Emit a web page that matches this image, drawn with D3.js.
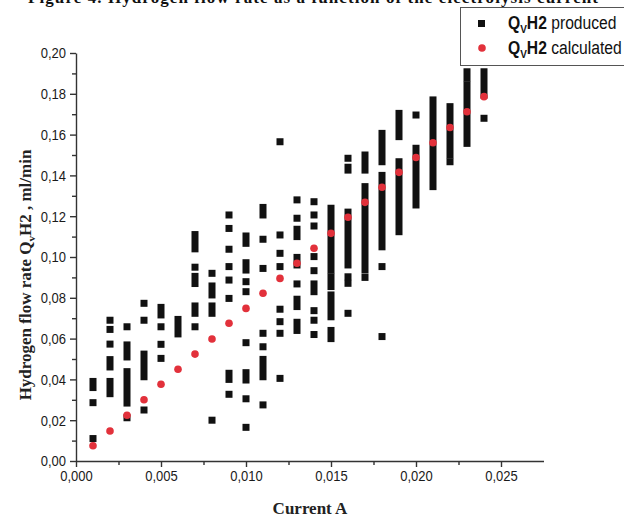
<!DOCTYPE html>
<html>
<head>
<meta charset="utf-8">
<script src="https://cdn.jsdelivr.net/npm/d3@7/dist/d3.min.js"></script>
<style>
  body { margin: 0; background: #fff; }
  svg { display: block; }
  .tick text { font-family: 'Liberation Sans', Arial, sans-serif; font-size: 15.5px; fill: #1a1a1a; }
</style>
</head>
<body>
<script>
// Current values (A) at which the flow was measured / calculated
const currentA = [0.001, 0.002, 0.003, 0.004, 0.005, 0.006, 0.007, 0.008, 0.009, 0.010, 0.011, 0.012,
                  0.013, 0.014, 0.015, 0.016, 0.017, 0.018, 0.019, 0.020, 0.021, 0.022, 0.023, 0.024];

// Calculated hydrogen flow (ml/min), one per current value
const flowCalculated = [0.0075, 0.0147, 0.0224, 0.0300, 0.0376, 0.0450, 0.0524, 0.0598, 0.0675, 0.0748, 0.0822, 0.0895,
                        0.0969, 0.1043, 0.1116, 0.1195, 0.1268, 0.1342, 0.1415, 0.1488, 0.1560, 0.1635, 0.1712, 0.1786];

// Produced hydrogen flow (ml/min): [current A, lowest, highest] for each run of overlapping readings
const producedRuns = [
  [0.001, 0.011, 0.011], [0.001, 0.0286, 0.0286], [0.001, 0.036, 0.039],
  [0.002, 0.033, 0.039], [0.002, 0.0461, 0.0497], [0.002, 0.0573, 0.0573], [0.002, 0.0645, 0.0645], [0.002, 0.069, 0.069],
  [0.003, 0.0212, 0.0212], [0.003, 0.0284, 0.0438], [0.003, 0.051, 0.0569], [0.003, 0.0658, 0.0658],
  [0.004, 0.025, 0.025], [0.004, 0.0413, 0.0524], [0.004, 0.069, 0.069], [0.004, 0.0773, 0.0773],
  [0.005, 0.0503, 0.0503], [0.005, 0.0572, 0.0572], [0.005, 0.0658, 0.0658], [0.005, 0.0716, 0.0753],
  [0.006, 0.0623, 0.0694],
  [0.007, 0.0658, 0.0658], [0.007, 0.0724, 0.076], [0.007, 0.087, 0.0905], [0.007, 0.095, 0.095], [0.007, 0.104, 0.111],
  [0.008, 0.020, 0.020], [0.008, 0.0724, 0.076], [0.008, 0.0814, 0.0858], [0.008, 0.092, 0.092],
  [0.009, 0.0327, 0.0327], [0.009, 0.040, 0.043], [0.009, 0.0797, 0.0797], [0.009, 0.0887, 0.0887], [0.009, 0.0953, 0.0953],
  [0.009, 0.1038, 0.1038], [0.009, 0.114, 0.114], [0.009, 0.1206, 0.1206],
  [0.010, 0.0165, 0.0165], [0.010, 0.0305, 0.0305], [0.010, 0.0397, 0.0433], [0.010, 0.058, 0.058], [0.010, 0.083, 0.083],
  [0.010, 0.0879, 0.0879], [0.010, 0.0936, 0.0972], [0.010, 0.1067, 0.1103],
  [0.011, 0.0275, 0.0275], [0.011, 0.0413, 0.0498], [0.011, 0.056, 0.056], [0.011, 0.0626, 0.0626], [0.011, 0.0944, 0.0944],
  [0.011, 0.1087, 0.1087], [0.011, 0.1206, 0.1243],
  [0.012, 0.0405, 0.0405], [0.012, 0.0626, 0.0626], [0.012, 0.0683, 0.0683], [0.012, 0.0744, 0.0744], [0.012, 0.0953, 0.0953],
  [0.012, 0.1018, 0.1018], [0.012, 0.1108, 0.1108], [0.012, 0.1565, 0.1565],
  [0.013, 0.064, 0.068], [0.013, 0.0757, 0.0793], [0.013, 0.0868, 0.0868], [0.013, 0.0961, 0.0998], [0.013, 0.110, 0.1136],
  [0.013, 0.119, 0.119], [0.013, 0.128, 0.128],
  [0.014, 0.062, 0.062], [0.014, 0.069, 0.069], [0.014, 0.0737, 0.0737], [0.014, 0.083, 0.0868], [0.014, 0.0933, 0.0933],
  [0.014, 0.1002, 0.1002], [0.014, 0.1152, 0.1152], [0.014, 0.1206, 0.1206], [0.014, 0.1271, 0.1271],
  [0.015, 0.060, 0.064], [0.015, 0.0707, 0.0814], [0.015, 0.0855, 0.0903], [0.015, 0.0936, 0.1239],
  [0.016, 0.0724, 0.0724], [0.016, 0.0871, 0.0871], [0.016, 0.0903, 0.0903], [0.016, 0.0961, 0.122],
  [0.016, 0.1426, 0.144], [0.016, 0.1484, 0.1484],
  [0.017, 0.090, 0.090], [0.017, 0.0936, 0.1345], [0.017, 0.1426, 0.150],
  [0.018, 0.061, 0.061], [0.018, 0.0953, 0.0953], [0.018, 0.105, 0.140], [0.018, 0.1467, 0.1606],
  [0.019, 0.1124, 0.1467], [0.019, 0.159, 0.1704],
  [0.020, 0.1255, 0.1533], [0.020, 0.1696, 0.1696],
  [0.021, 0.1345, 0.177],
  [0.022, 0.1467, 0.1467], [0.022, 0.150, 0.1737],
  [0.023, 0.1557, 0.1843], [0.023, 0.1876, 0.1908],
  [0.024, 0.168, 0.168], [0.024, 0.1794, 0.1908]
];

// Axis ticks and their printed labels (decimal comma)
const xMajorTicks = [0, 0.005, 0.010, 0.015, 0.020, 0.025];
const xTickLabels = ["0,000", "0,005", "0,010", "0,015", "0,020", "0,025"];
const xMinorTicks = [0.0025, 0.0075, 0.0125, 0.0175, 0.0225];
const yMajorTicks = [0, 0.02, 0.04, 0.06, 0.08, 0.10, 0.12, 0.14, 0.16, 0.18, 0.20];
const yTickLabels = ["0,00", "0,02", "0,04", "0,06", "0,08", "0,10", "0,12", "0,14", "0,16", "0,18", "0,20"];
const yMinorTicks = [0.01, 0.03, 0.05, 0.07, 0.09, 0.11, 0.13, 0.15, 0.17, 0.19];

const W = 624, H = 521;
const markSize = 7;
const dotRadius = 3.8;
const black = "#111111";
const red = "#e2313b";
const axisColor = "#333333";
const narrow = 0.84;   // horizontal squeeze for the condensed sans labels

const svg = d3.select("body").append("svg").attr("width", W).attr("height", H);

const x = d3.scaleLinear().domain([0, 0.0275]).range([76, 543.5]);
const y = d3.scaleLinear().domain([0, 0.20]).range([461, 53]);

// Figure caption line, partly above the top edge
svg.append("text")
  .attr("x", 28).attr("y", 3)
  .attr("font-family", "'Liberation Serif', 'Times New Roman', serif")
  .attr("font-weight", "bold").attr("font-size", 17).attr("fill", "#111")
  .attr("textLength", 570).attr("lengthAdjust", "spacing")
  .text("Figure 4. Hydrogen flow rate as a function of the electrolysis current");

// Axes
function styleTicks(g) {
  g.select(".domain").attr("stroke", axisColor).attr("stroke-width", 1.4);
  g.selectAll(".tick line").attr("stroke", axisColor).attr("stroke-width", 1.4);
}

const xAxis = svg.append("g").attr("transform", `translate(0,${y(0)})`)
  .call(d3.axisBottom(x).tickValues(xMajorTicks).tickFormat((d, i) => xTickLabels[i]).tickSize(6).tickSizeOuter(0).tickPadding(3));
styleTicks(xAxis);
xAxis.selectAll(".tick text").attr("transform", `scale(${narrow},1)`);

svg.append("g").attr("transform", `translate(0,${y(0)})`)
  .call(d3.axisBottom(x).tickValues(xMinorTicks).tickFormat("").tickSize(4).tickSizeOuter(0))
  .call(g => { g.select(".domain").remove(); g.selectAll(".tick line").attr("stroke", axisColor).attr("stroke-width", 1.4); });

const yAxis = svg.append("g").attr("transform", `translate(${x(0)},0)`)
  .call(d3.axisLeft(y).tickValues(yMajorTicks).tickFormat((d, i) => yTickLabels[i]).tickSize(6).tickSizeOuter(0).tickPadding(4));
styleTicks(yAxis);
yAxis.selectAll(".tick text").attr("x", -10 / narrow).attr("transform", `scale(${narrow},1)`);

svg.append("g").attr("transform", `translate(${x(0)},0)`)
  .call(d3.axisLeft(y).tickValues(yMinorTicks).tickFormat("").tickSize(4).tickSizeOuter(0))
  .call(g => { g.select(".domain").remove(); g.selectAll(".tick line").attr("stroke", axisColor).attr("stroke-width", 1.4); });

// Axis titles
svg.append("text")
  .attr("x", 310).attr("y", 514).attr("text-anchor", "middle")
  .attr("font-family", "'Liberation Serif', 'Times New Roman', serif")
  .attr("font-weight", "bold").attr("font-size", 17).attr("fill", "#222")
  .text("Current A");

const yTitle = svg.append("text")
  .attr("transform", "translate(31,275) rotate(-90)").attr("text-anchor", "middle")
  .attr("font-family", "'Liberation Serif', 'Times New Roman', serif")
  .attr("font-weight", "bold").attr("font-size", 17).attr("fill", "#222");
yTitle.append("tspan").text("Hydrogen flow rate Q");
yTitle.append("tspan").attr("font-size", 11).attr("dy", 4).text("v");
yTitle.append("tspan").attr("dy", -4).text("H2 , ml/min");

// Produced flow: square markers, overlapping runs drawn as one column
svg.append("g").selectAll("rect").data(producedRuns).join("rect")
  .attr("x", d => x(d[0]) - markSize / 2)
  .attr("y", d => y(d[2]) - markSize / 2)
  .attr("width", markSize)
  .attr("height", d => y(d[1]) - y(d[2]) + markSize)
  .attr("fill", black);

// Calculated flow: red dots
svg.append("g").selectAll("circle").data(currentA).join("circle")
  .attr("cx", d => x(d))
  .attr("cy", (d, i) => y(flowCalculated[i]))
  .attr("r", dotRadius)
  .attr("fill", red);

// Legend
const legend = svg.append("g");
legend.append("rect").attr("x", 460.5).attr("y", 7.5).attr("width", 180).attr("height", 58)
  .attr("fill", "#fff").attr("stroke", "#555").attr("stroke-width", 1);
legend.append("rect").attr("x", 478).attr("y", 20).attr("width", markSize).attr("height", markSize).attr("fill", black);
legend.append("circle").attr("cx", 482).attr("cy", 48).attr("r", dotRadius).attr("fill", red);

const legendItems = ["produced", "calculated"];
legendItems.forEach((name, i) => {
  const t = legend.append("text")
    .attr("transform", `translate(508,${29 + i * 25}) scale(0.87,1)`)
    .attr("font-family", "'Liberation Sans', Arial, sans-serif")
    .attr("font-size", 18).attr("fill", "#111");
  t.append("tspan").attr("font-weight", "bold").text("Q");
  t.append("tspan").attr("font-weight", "bold").attr("font-size", 11.5).attr("dy", 4).text("V");
  t.append("tspan").attr("font-weight", "bold").attr("dy", -4).text("H2");
  t.append("tspan").text(" " + name);
});
</script>
</body>
</html>
